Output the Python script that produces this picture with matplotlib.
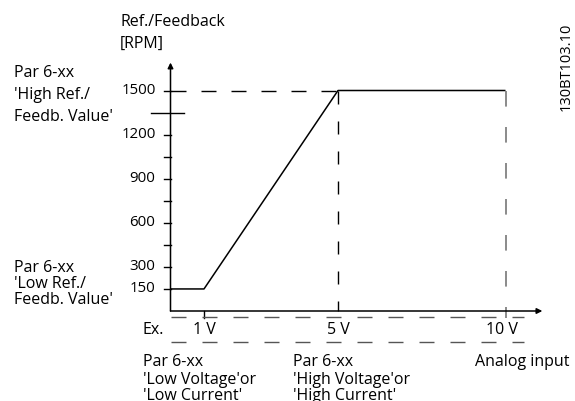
import matplotlib
matplotlib.use("Agg")
import matplotlib.pyplot as plt

# analog input (V) vs reference / feedback (RPM)
volts = [0, 1, 5, 10]
rpm = [150, 150, 1500, 1500]
yticks = [150, 300, 600, 900, 1200, 1500]
minor_ticks = [450, 750, 1050]
x_marks = [1, 5, 10]
x_labels = ['1 V', '5 V', '10 V']

W, H = 575, 401
plt.rcParams['font.family'] = ['Open Sans', 'DejaVu Sans']

fig = plt.figure(figsize=(W / 100, H / 100), dpi=100)
ax = fig.add_axes([0, 0, 1, 1])

# pixel scale of the drawing: 0 V at x=170.5, 33.5 px / V ; 0 rpm at y=311, 0.147 px / rpm
x0, sx = 170.5, 33.5
y0, sy = 311, 0.147
ax.set_xlim(-x0 / sx, (W - x0) / sx)
ax.set_ylim((y0 - H) / sy, y0 / sy)
ax.axis('off')


def fx(px):
    return px / W


def fy(py):
    return 1 - py / H


px = 72 / 100  # points per pixel
fs = 11.5
fs_num = 10.8

# axes with arrows
ax.annotate('', xy=(11.1, 0), xytext=(0, 0),
            arrowprops=dict(arrowstyle='-|>', lw=1.1, color='black', mutation_scale=8, shrinkA=0, shrinkB=0))
ax.annotate('', xy=(0, 1690), xytext=(0, 0),
            arrowprops=dict(arrowstyle='-|>', lw=1.1, color='black', mutation_scale=8, shrinkA=0, shrinkB=0))

# y ticks
tl = 7 / sx
for v in yticks + minor_ticks:
    ax.plot([-tl, 0], [v, v], color='black', lw=1.0)
for v in yticks:
    ax.text(-15 / sx, v, str(v), ha='right', va='center', fontsize=fs_num)
ax.plot([-19.5 / sx, 13.5 / sx], [1350, 1350], color='black', lw=1.0)

# curve
ax.plot(volts, rpm, color='black', lw=1.1, solid_capstyle='butt')

# dashed guides
dash = (15 * px, 15 * px)
ax.plot([0, 5], [1500, 1500], color='black', lw=1.0, dashes=dash)
ax.plot([5, 5], [1500, 0], color='black', lw=1.0, dashes=(13 * px, 17 * px))
ax.plot([10, 10], [1500, -7 / sy], color='#777777', lw=1.2, dashes=(13 * px, 17 * px))
ax.plot([1, 1], [0, -7 / sy], color='black', lw=1.0)
for py in (317, 342):
    ax.plot([0, (524 - x0) / sx], [(y0 - py) / sy] * 2, color='#555555', lw=1.0, dashes=(15 * px, 16 * px))

# x labels
ax.text(-27.5 / sx, (y0 - 330) / sy, 'Ex.', ha='left', va='center', fontsize=fs)
offs = [0, 0, -0.12]
for x, s, o in zip(x_marks, x_labels, offs):
    ax.text(x + o, (y0 - 330) / sy, s, ha='center', va='center', fontsize=fs)

# texts
fig.text(fx(120), fy(22), 'Ref./Feedback', ha='left', va='center', fontsize=fs)
fig.text(fx(120), fy(44), '[RPM]', ha='left', va='center', fontsize=fs)
for py, s in zip([73, 95, 117], ['Par 6-xx', "'High Ref./", "Feedb. Value'"]):
    fig.text(fx(14), fy(py), s, ha='left', va='center', fontsize=fs)
for py, s in zip([268, 284, 300], ['Par 6-xx', "'Low Ref./", "Feedb. Value'"]):
    fig.text(fx(14), fy(py), s, ha='left', va='center', fontsize=fs)
for py, s in zip([362, 380, 396], ['Par 6-xx', "'Low Voltage'or", "'Low Current'"]):
    fig.text(fx(143), fy(py), s, ha='left', va='center', fontsize=fs)
for py, s in zip([362, 380, 396], ['Par 6-xx', "'High Voltage'or", "'High Current'"]):
    fig.text(fx(293), fy(py), s, ha='left', va='center', fontsize=fs)
fig.text(fx(475), fy(362), 'Analog input', ha='left', va='center', fontsize=fs)
fig.text(fx(566), fy(67), '130BT103.10', ha='center', va='center', rotation=90, fontsize=10.5)

fig.savefig('out.png', dpi=100)
